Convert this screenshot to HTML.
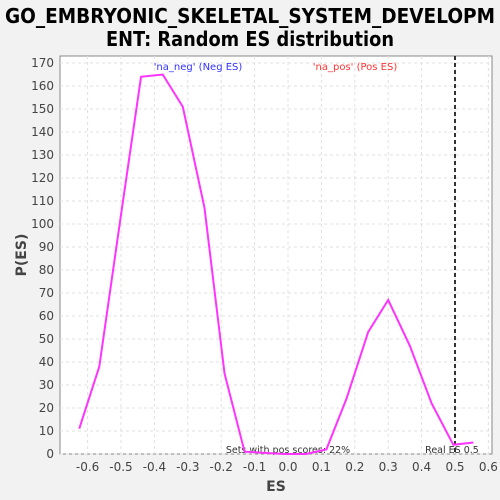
<!DOCTYPE html>
<html><head><meta charset="utf-8"><style>
body{margin:0;background:#f2f2f2;}
svg{display:block;font-family:"DejaVu Sans","Liberation Sans",sans-serif;}
</style></head><body>
<svg id="c" width="500" height="500">
<text x="250" y="23" text-anchor="middle" font-size="20" font-weight="bold" textLength="490" lengthAdjust="spacingAndGlyphs">GO_EMBRYONIC_SKELETAL_SYSTEM_DEVELOPM</text>
<text x="250" y="46" text-anchor="middle" font-size="20" font-weight="bold" textLength="288" lengthAdjust="spacingAndGlyphs">ENT: Random ES distribution</text>
<rect x="60" y="56" width="432" height="398" fill="#fff" stroke="#888"/>
<g id="grid"></g><g id="ticks"></g>
<text x="276" y="491" text-anchor="middle" font-size="14" font-weight="bold" fill="#444">ES</text>
<text transform="translate(26,255) rotate(-90)" text-anchor="middle" font-size="14" font-weight="bold" fill="#444">P(ES)</text>
<text x="198" y="70" text-anchor="middle" font-size="10" fill="#3333ff">'na_neg' (Neg ES)</text>
<text x="355" y="70" text-anchor="middle" font-size="10" fill="#ff3333">'na_pos' (Pos ES)</text>
<text x="288" y="453" text-anchor="middle" font-size="9.5" fill="#333">Sets with pos scores: 22%</text>
<g id="marks"></g>
</svg>
<script>
const esValues=[-0.625,-0.565,-0.5,-0.44,-0.375,-0.315,-0.25,-0.19,-0.13,-0.07,-0.01,0.055,0.115,0.175,0.24,0.30,0.365,0.43,0.495,0.555];
const probValues=[11,38,104,164,165,151,107,35,1,0.5,0,0,2,24,53,67,47,22,4,5];
const xTicks=[-0.6,-0.5,-0.4,-0.3,-0.2,-0.1,0.0,0.1,0.2,0.3,0.4,0.5,0.6];
const yTicks=[0,10,20,30,40,50,60,70,80,90,100,110,120,130,140,150,160,170];
const realES=[0.5];
const NS='http://www.w3.org/2000/svg';
const X=v=>288+v*334;
const Y=v=>454-v*2.3;
function mk(t,a,p){const e=document.createElementNS(NS,t);for(const k in a)e.setAttribute(k,a[k]);p.appendChild(e);return e;}
const grid=document.getElementById('grid'),ticks=document.getElementById('ticks'),marks=document.getElementById('marks');
xTicks.forEach(v=>{
 const g=mk('line',{x1:X(v),x2:X(v),y1:56,y2:454,stroke:'#e0e0e0','stroke-dasharray':'3,3'},grid);
 
 
 const t=mk('text',{x:X(v),y:471,'text-anchor':'middle','font-size':'12',fill:'#444'},ticks);
 t.textContent=v.toFixed(1);
 
 
});
yTicks.forEach(v=>{
 const g=mk('line',{x1:60,x2:492,y1:Y(v),y2:Y(v),stroke:'#e0e0e0','stroke-dasharray':'3,3'},grid);
 
 
 const t=mk('text',{x:54,y:Y(v)+4,'text-anchor':'end','font-size':'12',fill:'#444'},ticks);
 t.textContent=v;
 
 
});
realES.forEach(v=>{
 const l=mk('line',{x1:X(v),x2:X(v),y1:56,y2:454,stroke:'#333','stroke-width':2,'stroke-dasharray':'4,3'},marks);
 
 
 const t=mk('text',{x:X(v)-3,y:453,'text-anchor':'middle','font-size':'9.5',fill:'#333'},marks);
 t.textContent='Real ES '+v;
 
 
});
const pl=mk('polyline',{points:esValues.map((e,i)=>X(e)+','+Y(probValues[i])).join(' '),fill:'none',stroke:'#ff33ff','stroke-width':2},marks);


</script>
</body></html>
